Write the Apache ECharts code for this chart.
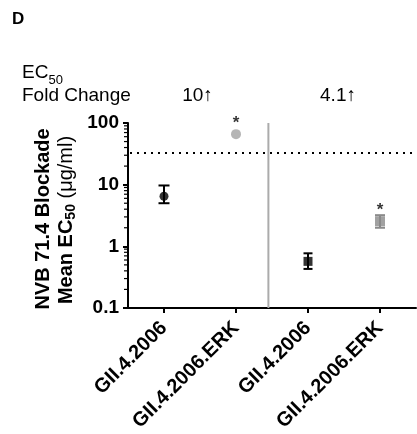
<!DOCTYPE html>
<html>
<head>
<meta charset="utf-8">
<script src="https://cdn.jsdelivr.net/npm/echarts@6/dist/echarts.min.js"></script>
<style>
  html, body { margin: 0; padding: 0; background: #fff; }
  #chart { width: 417px; height: 434px; }
</style>
</head>
<body>
<div id="chart"></div>
<script>
// Blockade EC50 per virus-like particle (µg/ml), log scale
const categories = ['GII.4.2006', 'GII.4.2006.ERK', 'GII.4.2006', 'GII.4.2006.ERK'];
const meanEC50 = [6.5, 66, 0.57, 2.55];
const lowerEC50 = [5.0, null, 0.43, 2.0];
const upperEC50 = [9.7, null, 0.77, 3.2];
const significant = [false, true, false, true];
const foldChange = ['10\u2191', '4.1\u2191'];
const cutoffEC50 = 33;
const yTickValues = [0.1, 1, 10, 100];
const minorTickValues = [0.2, 0.3, 0.4, 0.5, 0.6, 0.7, 0.8, 0.9,
                         2, 3, 4, 5, 6, 7, 8, 9,
                         20, 30, 40, 50, 60, 70, 80, 90];
const panelDivider = 1.45;

// marker appearance per category
const markerShapes = ['circle', 'circle', 'rect', 'rect'];
const markerSizes = [9, 10, 9, 10];
const capHalfWidths = [5.5, 5, 4.5, 5];
const markerColors = ['#000000', '#a3a3a3', '#000000', '#8a8a8a'];

const FONT = '"Liberation Sans", Arial, Helvetica, sans-serif';
const chart = echarts.init(document.getElementById('chart'), null, { renderer: 'canvas' });

const pointData = meanEC50.map((v, i) => ({
  value: [i, v],
  symbol: markerShapes[i],
  symbolSize: markerSizes[i],
  itemStyle: { color: markerColors[i] },
  label: {
    show: significant[i],
    formatter: '*',
    position: 'top',
    distance: -3,
    color: '#000',
    fontSize: 17,
    fontWeight: 'bold',
    fontFamily: FONT
  }
}));

const errorData = [];
meanEC50.forEach((v, i) => {
  if (lowerEC50[i] != null) errorData.push([i, lowerEC50[i], upperEC50[i]]);
});

chart.setOption({
  animation: false,
  backgroundColor: '#ffffff',
  grid: { left: 128, right: 1, top: 123, bottom: 124, containLabel: false },
  xAxis: [
    {
      type: 'category',
      data: categories,
      boundaryGap: true,
      axisLine: { show: true, onZero: false, lineStyle: { color: '#000', width: 2 } },
      axisTick: { show: true, alignWithLabel: true, length: 5, lineStyle: { color: '#000', width: 2 } },
      axisLabel: {
        rotate: 45,
        margin: 17,
        color: '#000',
        fontWeight: 'bold',
        fontSize: 20,
        fontFamily: FONT
      },
      splitLine: { show: false }
    },
    {
      type: 'value',
      min: -0.5,
      max: 3.5,
      show: false
    }
  ],
  yAxis: {
    type: 'log',
    logBase: 10,
    min: 0.1,
    max: 100,
    axisLine: { show: true, onZero: false, lineStyle: { color: '#000', width: 2 } },
    axisTick: { show: true, length: 5, lineStyle: { color: '#000', width: 2 } },
    axisLabel: {
      margin: 9,
      color: '#000',
      fontWeight: 'bold',
      fontSize: 19,
      fontFamily: FONT,
      formatter: v => {
        const hit = yTickValues.find(t => Math.abs(Math.log10(t) - Math.log10(v)) < 1e-6);
        return hit != null ? String(hit) : '';
      }
    },
    splitLine: { show: false }
  },
  series: [
    {
      // vertical divider between the two panels
      type: 'custom',
      xAxisIndex: 1,
      z: 1,
      silent: true,
      data: [[panelDivider, 0.1, 100]],
      renderItem: (params, api) => {
        const top = api.coord([api.value(0), api.value(2)]);
        const bot = api.coord([api.value(0), api.value(1)]);
        return {
          type: 'line',
          shape: { x1: top[0], y1: top[1], x2: bot[0], y2: bot[1] },
          style: { stroke: '#ababab', lineWidth: 2 }
        };
      }
    },
    {
      // log minor ticks on the y axis
      type: 'custom',
      xAxisIndex: 1,
      z: 5,
      silent: true,
      clip: false,
      data: minorTickValues.map(v => [-0.5, v]),
      renderItem: (params, api) => {
        const p = api.coord([api.value(0), api.value(1)]);
        return {
          type: 'line',
          shape: { x1: p[0] - 4, y1: p[1], x2: p[0], y2: p[1] },
          style: { stroke: '#000', lineWidth: 1.2 }
        };
      }
    },
    {
      // error bars (range of EC50)
      type: 'custom',
      z: 3,
      silent: true,
      data: errorData,
      renderItem: (params, api) => {
        const i = api.value(0);
        const hi = api.coord([i, api.value(2)]);
        const lo = api.coord([i, api.value(1)]);
        const half = capHalfWidths[i];
        const color = markerColors[i];
        const st = { stroke: color, lineWidth: 2 };
        return {
          type: 'group',
          children: [
            { type: 'line', shape: { x1: hi[0], y1: hi[1], x2: lo[0], y2: lo[1] }, style: st },
            { type: 'line', shape: { x1: hi[0] - half, y1: hi[1], x2: hi[0] + half, y2: hi[1] }, style: st },
            { type: 'line', shape: { x1: lo[0] - half, y1: lo[1], x2: lo[0] + half, y2: lo[1] }, style: st }
          ]
        };
      }
    },
    {
      type: 'scatter',
      z: 4,
      data: pointData,
      markLine: {
        silent: true,
        symbol: ['none', 'none'],
        label: { show: false },
        lineStyle: { color: '#000', width: 2, type: [2, 5], dashOffset: -2 },
        data: [{ yAxis: cutoffEC50 }]
      }
    }
  ],
  graphic: [
    {
      type: 'text', left: 12, top: 11,
      style: { text: 'D', font: 'bold 17px ' + FONT, fill: '#000' }
    },
    {
      type: 'text', x: 22, y: 73,
      style: { text: 'EC', font: '19px ' + FONT, fill: '#000', textVerticalAlign: 'middle' }
    },
    {
      type: 'text', x: 48.5, y: 80,
      style: { text: '50', font: '13px ' + FONT, fill: '#000', textVerticalAlign: 'middle' }
    },
    {
      type: 'text', x: 22, y: 96,
      style: { text: 'Fold Change', font: '19px ' + FONT, fill: '#000', textVerticalAlign: 'middle' }
    },
    {
      type: 'text', x: 197.5, y: 96,
      style: { text: foldChange[0], font: '19px ' + FONT, fill: '#000', textAlign: 'center', textVerticalAlign: 'middle' }
    },
    {
      type: 'text', x: 338, y: 96,
      style: { text: foldChange[1], font: '19px ' + FONT, fill: '#000', textAlign: 'center', textVerticalAlign: 'middle' }
    },
    {
      type: 'text', x: 43, y: 219, rotation: Math.PI / 2,
      style: { text: 'NVB 71.4 Blockade', font: 'bold 20px ' + FONT, fill: '#000', textAlign: 'center', textVerticalAlign: 'middle' }
    },
    {
      type: 'text', x: 66, y: 220, rotation: Math.PI / 2,
      style: {
        text: '{b|Mean EC}{s|50}{n| (\u03bcg/ml)}',
        textAlign: 'center',
        textVerticalAlign: 'middle',
        fill: '#000',
        rich: {
          b: { fontFamily: FONT, fontWeight: 'bold', fontSize: 20, lineHeight: 24, fill: '#000' },
          s: { fontFamily: FONT, fontWeight: 'bold', fontSize: 14, lineHeight: 24, padding: [9, 0, 0, 0], verticalAlign: 'bottom', fill: '#000' },
          n: { fontFamily: FONT, fontSize: 20, lineHeight: 24, fill: '#000' }
        }
      }
    }
  ]
});
</script>
</body>
</html>
